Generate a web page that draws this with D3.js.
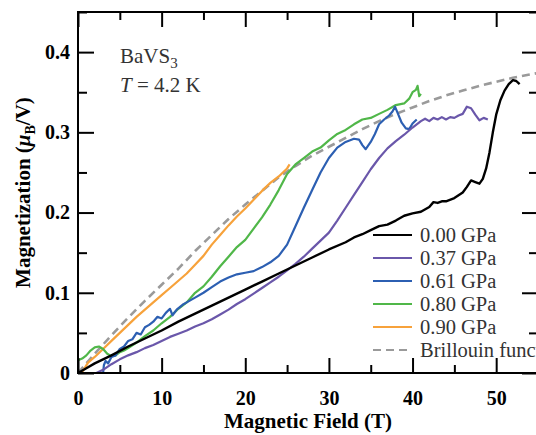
<!DOCTYPE html>
<html>
<head>
<meta charset="utf-8">
<script src="https://cdn.jsdelivr.net/npm/d3@7"></script>
<style>
body { margin: 0; background: #fff; }
svg { display: block; font-family: "Liberation Serif", "Times New Roman", serif; }
</style>
</head>
<body>
<div id="chart"></div>
<script>
// field (T) and magnetization (muB/V)
var field000 = [0, 1, 2, 4, 6, 8, 10, 12, 14, 16, 18, 20, 22, 24, 26, 28, 30, 32, 33, 34, 35, 36, 37, 38, 39, 40, 41, 42, 42.5, 43, 43.5, 44, 45, 46, 46.5, 47, 47.5, 48, 48.4, 48.8, 49.2, 49.6, 50, 50.5, 51, 51.5, 52, 52.4, 52.8];
var mag000 = [0, 0.006, 0.012, 0.022, 0.033, 0.043, 0.053, 0.064, 0.074, 0.084, 0.094, 0.104, 0.114, 0.124, 0.134, 0.144, 0.154, 0.163, 0.169, 0.173, 0.178, 0.183, 0.185, 0.19, 0.196, 0.199, 0.201, 0.207, 0.213, 0.212, 0.214, 0.214, 0.218, 0.225, 0.232, 0.24, 0.238, 0.236, 0.242, 0.255, 0.275, 0.3, 0.322, 0.34, 0.352, 0.36, 0.365, 0.364, 0.36];

var field037 = [2.2, 3, 4, 5, 6, 7, 8, 9, 10, 11, 12, 13, 14, 15, 16, 17, 18, 19, 20, 21, 22, 23, 24, 25, 26, 27, 28, 29, 30, 31, 32, 33, 34, 35, 36, 37, 38, 39, 40, 41, 41.5, 42, 42.5, 43, 43.5, 44, 44.5, 45, 45.5, 46, 46.5, 47, 47.5, 48, 48.5, 49];
var mag037 = [0, 0.004, 0.011, 0.017, 0.022, 0.026, 0.031, 0.035, 0.04, 0.045, 0.049, 0.053, 0.058, 0.062, 0.067, 0.073, 0.079, 0.086, 0.092, 0.099, 0.106, 0.113, 0.12, 0.128, 0.136, 0.145, 0.155, 0.165, 0.175, 0.19, 0.206, 0.222, 0.238, 0.254, 0.268, 0.28, 0.289, 0.297, 0.306, 0.314, 0.317, 0.314, 0.318, 0.316, 0.319, 0.316, 0.319, 0.318, 0.321, 0.323, 0.332, 0.33, 0.322, 0.315, 0.318, 0.316];

var field061 = [3.0, 3.1, 3.3, 3.6, 4, 4.5, 5, 5.5, 6, 6.5, 7, 7.5, 8, 8.5, 9, 9.5, 10, 10.5, 11, 11.3, 11.8, 12.5, 13, 14, 15, 16, 17, 18, 19, 20, 21, 22, 23, 24, 25, 26, 27, 28, 29, 30, 31, 32, 33, 33.6, 34, 34.4, 35, 35.5, 36, 36.6, 37.2, 37.6, 37.9, 38.3, 38.7, 39.2, 39.6, 40, 40.5];
var mag061 = [0, 0.01, 0.015, 0.012, 0.02, 0.022, 0.03, 0.033, 0.04, 0.042, 0.05, 0.048, 0.057, 0.06, 0.064, 0.07, 0.068, 0.075, 0.08, 0.072, 0.079, 0.085, 0.088, 0.094, 0.1, 0.107, 0.114, 0.119, 0.123, 0.125, 0.127, 0.132, 0.138, 0.146, 0.16, 0.183, 0.206, 0.228, 0.25, 0.268, 0.281, 0.288, 0.292, 0.291, 0.284, 0.279, 0.288, 0.298, 0.31, 0.316, 0.321, 0.326, 0.332, 0.322, 0.312, 0.305, 0.304, 0.311, 0.316];

var field080 = [0, 0.5, 1, 1.5, 2, 2.5, 3, 3.5, 4, 4.5, 5, 5.5, 6, 7, 8, 9, 10, 11, 12, 13, 14, 15, 16, 17, 18, 19, 20, 21, 22, 23, 24, 25, 26, 27, 28, 29, 30, 31, 32, 33, 34, 35, 36, 37, 38, 39, 39.6, 40, 40.4, 40.6, 40.8, 41];
var mag080 = [0.016, 0.018, 0.022, 0.028, 0.032, 0.033, 0.03, 0.024, 0.021, 0.022, 0.026, 0.028, 0.031, 0.038, 0.046, 0.053, 0.062, 0.07, 0.08, 0.088, 0.1, 0.108, 0.12, 0.133, 0.145, 0.157, 0.166, 0.18, 0.194, 0.21, 0.228, 0.248, 0.26, 0.268, 0.276, 0.281, 0.29, 0.298, 0.303, 0.31, 0.316, 0.318, 0.323, 0.328, 0.334, 0.336, 0.342, 0.35, 0.353, 0.358, 0.345, 0.348];

var field090 = [0.4, 0.8, 1.2, 2, 3, 4, 5, 6, 7, 8, 9, 10, 11, 12, 13, 14, 15, 16, 17, 18, 19, 20, 21, 22, 23, 24, 24.5, 25, 25.3];
var mag090 = [0, 0.006, 0.013, 0.02, 0.03, 0.04, 0.05, 0.06, 0.07, 0.079, 0.088, 0.097, 0.106, 0.115, 0.124, 0.135, 0.146, 0.16, 0.172, 0.184, 0.195, 0.205, 0.216, 0.227, 0.237, 0.245, 0.25, 0.255, 0.26];

var fieldBrill = [0, 2, 4, 6, 8, 10, 12, 14, 16, 18, 20, 22, 24, 26, 28, 30, 32, 34, 36, 38, 40, 42, 44, 46, 48, 50, 52, 54, 55];
var magBrill = [0, 0.024, 0.047, 0.069, 0.09, 0.11, 0.13, 0.152, 0.172, 0.192, 0.21, 0.227, 0.244, 0.258, 0.271, 0.282, 0.293, 0.304, 0.314, 0.323, 0.331, 0.339, 0.346, 0.352, 0.358, 0.363, 0.368, 0.372, 0.374];

var seriesNames = ["0.00 GPa", "0.37 GPa", "0.61 GPa", "0.80 GPa", "0.90 GPa", "Brillouin function"];
var seriesColors = ["#000000", "#6a57aa", "#2c5fb2", "#50b749", "#f7a23b", "#9a9a9a"];
var xTicks = [0, 10, 20, 30, 40, 50];
var yTicks = [0, 0.1, 0.2, 0.3, 0.4];

var margin = {top: 12, right: 0, bottom: 62, left: 78},
  width = 460,
  height = 361;

var svg = d3.select("#chart")
  .append("svg")
  .attr("width", 536)
  .attr("height", 435)
  .append("g")
  .attr("transform", "translate(" + margin.left + "," + margin.top + ")");

var x = d3.scaleLinear().domain([0, 55]).range([0, width]);
var y = d3.scaleLinear().domain([0, 0.45]).range([height, 0]);

var lines = [
  [field000, mag000], [field037, mag037], [field061, mag061],
  [field080, mag080], [field090, mag090], [fieldBrill, magBrill]
];

var line = d3.line()
  .x(function (d) { return x(d[0]); })
  .y(function (d) { return y(d[1]); });

// draw in back-to-front order like the figure
var order = [5, 4, 3, 2, 1, 0];
order.forEach(function (i) {
  var pts = lines[i][0].map(function (f, j) { return [f, lines[i][1][j]]; });
  svg.append("path")
    .datum(pts)
    .attr("fill", "none")
    .attr("stroke", seriesColors[i])
    .attr("stroke-width", i == 0 ? 2.4 : (i == 5 ? 2.6 : 2.2))
    .attr("stroke-dasharray", i == 5 ? "8,5" : null)
    .attr("stroke-linejoin", "round")
    .attr("d", line);
});

// axes, ticks pointing inward
function minor(ticks, step, max) {
  var out = [];
  for (var v = step / 2; v < max; v += step) out.push(+v.toFixed(3));
  return out;
}

svg.append("g")
  .attr("transform", "translate(0," + height + ")")
  .call(d3.axisBottom(x).tickValues(xTicks).tickSize(-15).tickSizeOuter(0).tickPadding(18));
svg.append("g")
  .attr("transform", "translate(0," + height + ")")
  .call(d3.axisBottom(x).tickValues(minor(xTicks, 10, 55)).tickSize(-8).tickSizeOuter(0).tickFormat(""));
svg.append("g")
  .call(d3.axisTop(x).tickValues(xTicks).tickSize(-15).tickSizeOuter(0).tickFormat(""));
svg.append("g")
  .call(d3.axisTop(x).tickValues(minor(xTicks, 10, 55)).tickSize(-8).tickSizeOuter(0).tickFormat(""));

svg.append("g")
  .call(d3.axisLeft(y).tickValues(yTicks).tickSize(-16).tickSizeOuter(0).tickPadding(8)
    .tickFormat(function (d) { return d == 0 ? "0" : d3.format(".1f")(d); }));
svg.append("g")
  .call(d3.axisLeft(y).tickValues(minor(yTicks, 0.1, 0.45)).tickSize(-9).tickSizeOuter(0).tickFormat(""));
svg.append("g")
  .attr("transform", "translate(" + width + ",0)")
  .call(d3.axisRight(y).tickValues(yTicks).tickSize(-16).tickSizeOuter(0).tickFormat(""));
svg.append("g")
  .attr("transform", "translate(" + width + ",0)")
  .call(d3.axisRight(y).tickValues(minor(yTicks, 0.1, 0.45)).tickSize(-9).tickSizeOuter(0).tickFormat(""));

// d3 puts font-family="sans-serif" on each axis group
svg.selectAll("g").attr("font-family", null).attr("font-size", null);
svg.selectAll(".domain").remove();
svg.selectAll(".tick line").attr("stroke", "#000").attr("stroke-width", 2);
svg.selectAll(".tick text")
  .attr("fill", "#000")
  .attr("font-family", "Liberation Serif, Times New Roman, serif")
  .style("font-size", "20px")
  .style("font-weight", "bold");

svg.append("rect")
  .attr("width", width)
  .attr("height", height)
  .attr("fill", "none")
  .attr("stroke", "#000")
  .attr("stroke-width", 2);

// axis titles
svg.append("text")
  .attr("x", width / 2)
  .attr("y", height + 55)
  .attr("text-anchor", "middle")
  .style("font-size", "21px")
  .style("font-weight", "bold")
  .text("Magnetic Field (T)");

var yt = svg.append("text")
  .attr("transform", "translate(" + (30 - margin.left) + "," + (height / 2) + ") rotate(-90)")
  .attr("text-anchor", "middle")
  .style("font-size", "21px")
  .style("font-weight", "bold");
yt.append("tspan").text("Magnetization (");
yt.append("tspan").style("font-style", "italic").text("\u03bc");
yt.append("tspan").attr("dy", 5).style("font-size", "14px").text("B");
yt.append("tspan").attr("dy", -5).text("/V)");

// annotation
var ann = svg.append("g").attr("fill", "#333").style("font-size", "21px");
var t1 = ann.append("text").attr("x", 120 - margin.left).attr("y", 63 - margin.top);
t1.append("tspan").text("BaVS");
t1.append("tspan").attr("dy", 5).style("font-size", "15px").text("3");
var t2 = ann.append("text").attr("x", 120 - margin.left).attr("y", 92 - margin.top);
t2.append("tspan").style("font-style", "italic").text("T");
t2.append("tspan").text(" = 4.2 K");

// legend
var legend = svg.append("g")
  .attr("transform", "translate(" + (373 - margin.left) + "," + (235 - margin.top) + ")");
seriesNames.forEach(function (name, i) {
  var row = legend.append("g").attr("transform", "translate(0," + (i * 23) + ")");
  row.append("line")
    .attr("x1", 0).attr("x2", 39).attr("y1", 0).attr("y2", 0)
    .attr("stroke", seriesColors[i])
    .attr("stroke-width", 2)
    .attr("stroke-dasharray", i == 5 ? "8,5" : null);
  row.append("text")
    .attr("x", 47)
    .attr("y", 7)
    .attr("fill", "#333")
    .style("font-size", "20.5px")
    .text(name);
});
</script>
</body>
</html>
